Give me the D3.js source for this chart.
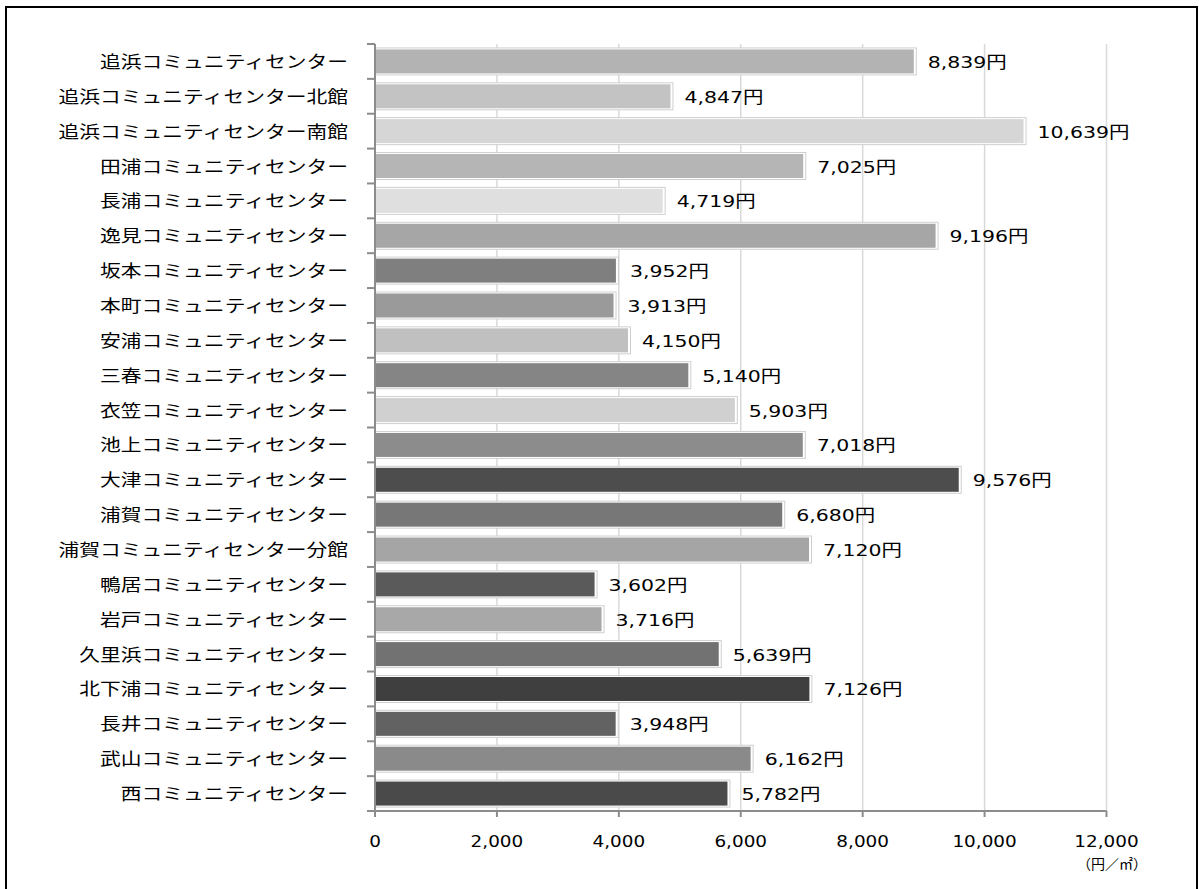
<!DOCTYPE html>
<html><head><meta charset="utf-8">
<script src="https://cdn.jsdelivr.net/npm/d3@7"></script>
<style>body{margin:0;background:#fff}svg{display:block}</style>
</head><body>
<svg id="c" width="1199" height="889"></svg>
<script>
const categories = ["追浜コミュニティセンター","追浜コミュニティセンター北館","追浜コミュニティセンター南館","田浦コミュニティセンター","長浦コミュニティセンター","逸見コミュニティセンター","坂本コミュニティセンター","本町コミュニティセンター","安浦コミュニティセンター","三春コミュニティセンター","衣笠コミュニティセンター","池上コミュニティセンター","大津コミュニティセンター","浦賀コミュニティセンター","浦賀コミュニティセンター分館","鴨居コミュニティセンター","岩戸コミュニティセンター","久里浜コミュニティセンター","北下浦コミュニティセンター","長井コミュニティセンター","武山コミュニティセンター","西コミュニティセンター"];
const values = [8839,4847,10639,7025,4719,9196,3952,3913,4150,5140,5903,7018,9576,6680,7120,3602,3716,5639,7126,3948,6162,5782];
const barColors = ["#b3b3b3","#c3c3c3","#d6d6d6","#b5b5b5","#dfdfdf","#a6a6a6","#7f7f7f","#9a9a9a","#c0c0c0","#858585","#d0d0d0","#8c8c8c","#4d4d4d","#777777","#a5a5a5","#5a5a5a","#a8a8a8","#727272","#3f3f3f","#626262","#8a8a8a","#4a4a4a"];
const xTicks = [0,2000,4000,6000,8000,10000,12000];
const unitLabel = "（円／㎡）";

const svg = d3.select("#c");
const L = 375, R = 1106.5, T = 44, B = 811;
const x = d3.scaleLinear().domain([0,12000]).range([L,R]);
const y = d3.scaleBand().domain(categories).range([T,B]).paddingInner(0).paddingOuter(0);
const fmt = d3.format(",");

// frame
svg.append("rect").attr("x",6).attr("y",7).attr("width",1191).attr("height",900)
  .attr("fill","none").attr("stroke","#000").attr("stroke-width",2);

// gridlines
svg.append("g").selectAll("line").data(xTicks.slice(1)).join("line")
  .attr("x1",d=>x(d)).attr("x2",d=>x(d)).attr("y1",T).attr("y2",B)
  .attr("stroke","#d9d9d9").attr("stroke-width",1.5);

// bars
const bh = 24;
const g = svg.append("g");
categories.forEach((c,i)=>{
  const cy = y(c)+y.bandwidth()/2;
  const xe = x(values[i]);
  g.append("rect").attr("x",L).attr("y",cy-bh/2-1.5).attr("width",xe-L+2.5).attr("height",bh+3)
    .attr("fill","#fff").attr("stroke","#cfcfcf").attr("stroke-width",1);
  g.append("rect").attr("x",L+1).attr("y",cy-bh/2).attr("width",xe-L-1).attr("height",bh)
    .attr("fill",barColors[i]);
  g.append("text").attr("transform",`translate(${xe+14},${cy+6.5}) scale(1.24,1)`)
    .attr("font-family","'DejaVu Sans','Noto Sans CJK JP',sans-serif").attr("font-size",16.5)
    .attr("fill","#000").text(fmt(values[i])+"円");
  g.append("text").attr("transform",`translate(348,${cy+6.5}) scale(1.26,1)`)
    .attr("text-anchor","end")
    .attr("font-family","'Noto Sans CJK JP',sans-serif").attr("font-size",16.5)
    .attr("fill","#000").text(c);
});

// axes
const yAxis = svg.append("g");
yAxis.append("line").attr("x1",L).attr("x2",L).attr("y1",T).attr("y2",B).attr("stroke","#8c8c8c").attr("stroke-width",2);
const bounds = categories.map(c=>y(c)).concat([B]);
yAxis.selectAll("line.t").data(bounds).join("line").attr("class","t")
  .attr("x1",L-8).attr("x2",L).attr("y1",d=>d).attr("y2",d=>d).attr("stroke","#8c8c8c").attr("stroke-width",2);

const xAxis = svg.append("g");
xAxis.append("line").attr("x1",L).attr("x2",R).attr("y1",B).attr("y2",B).attr("stroke","#8c8c8c").attr("stroke-width",2);
xAxis.selectAll("line.t").data(xTicks).join("line").attr("class","t")
  .attr("x1",d=>x(d)).attr("x2",d=>x(d)).attr("y1",B).attr("y2",B+6).attr("stroke","#8c8c8c").attr("stroke-width",2);
xAxis.selectAll("text").data(xTicks).join("text")
  .attr("transform",d=>`translate(${x(d)},847) scale(1.15,1)`).attr("text-anchor","middle")
  .attr("font-family","'DejaVu Sans',sans-serif").attr("font-size",16).attr("fill","#000")
  .text(d=>fmt(d));
svg.append("text").attr("x",1147).attr("y",869).attr("text-anchor","end")
  .attr("font-family","'Noto Sans CJK JP',sans-serif").attr("font-size",14).attr("fill","#000").text(unitLabel);
</script>
</body></html>
